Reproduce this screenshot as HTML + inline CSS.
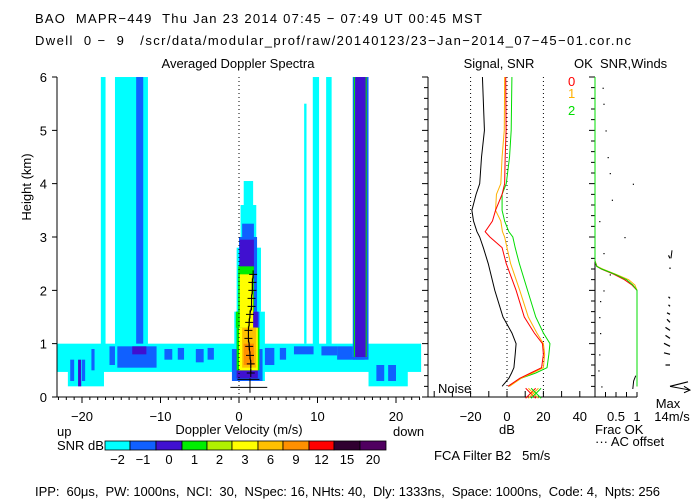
<!DOCTYPE html>
<html><head><meta charset="utf-8"><style>
html,body{margin:0;padding:0;background:#fff}
svg{display:block}
text{font-family:"Liberation Sans",sans-serif;font-size:13px;fill:#000;white-space:pre}
</style></head><body>
<svg id="c" width="700" height="500" viewBox="0 0 700 500" xmlns="http://www.w3.org/2000/svg" xml:space="preserve">
<text x="35" y="23" textLength="447" lengthAdjust="spacing">BAO  MAPR−449  Thu Jan 23 2014 07:45 − 07:49 UT 00:45 MST</text>
<text x="35" y="45" textLength="596" lengthAdjust="spacing">Dwell  0 −  9   /scr/data/modular_prof/raw/20140123/23−Jan−2014_07−45−01.cor.nc</text>
<text x="238" y="68" text-anchor="middle">Averaged Doppler Spectra</text>
<text x="499" y="68" text-anchor="middle">Signal, SNR</text>
<text x="574" y="68">OK  SNR,Winds</text>
<text x="31" y="187" text-anchor="middle" transform="rotate(-90 31 187)">Height (km)</text>
<text x="239" y="434" text-anchor="middle">Doppler Velocity (m/s)</text>
<text x="57" y="436">up</text>
<text x="393" y="436">down</text>
<text x="57" y="450">SNR dB</text>
<text x="507" y="434" text-anchor="middle">dB</text>
<text x="438" y="393">Noise</text>
<text x="595" y="434">Frac OK</text>
<text x="595" y="446">··· AC offset</text>
<text x="668" y="408" text-anchor="middle">Max</text>
<text x="672" y="421" text-anchor="middle">14m/s</text>
<text x="434" y="460">FCA Filter B2   5m/s</text>
<text x="35" y="496" textLength="625" lengthAdjust="spacing">IPP:  60μs,  PW: 1000ns,  NCI:  30,  NSpec: 16, NHts: 40,  Dly: 1333ns,  Space: 1000ns,  Code: 4,  Npts: 256</text>
<text x="568" y="86" style="fill:#f00">0</text>
<text x="568" y="98" style="fill:#ffb000">1</text>
<text x="568" y="115" style="fill:#00dd00">2</text>
<g id="g"></g>
</svg>
<script>
// ---- data ----
const levelLabels = ["-2","-1","0","1","2","3","6","9","12","15","20"];
const levelColors = ["#00ffff","#1060ff","#4010d0","#00ee00","#b0f000","#ffff00","#ffc000","#ff9000","#ff0000","#300030","#500060"];
// spectra patches: [v0, v1, h0, h1, levelIndex]
const patches = [
 [-17.6,-17.0,0.5,6,0],[-15.8,-11.6,0.95,6,0],[-13.1,-12.2,0.9,6,1],
 [8.3,8.6,1.0,5.5,0],[9.4,10.2,0.95,6,0],[11.1,11.8,0.95,6,0],
 [-23.2,23.2,0.47,1.0,0],[-21.8,-17.2,0.2,0.5,0],[16.5,21.5,0.2,0.5,0],
 [-21.5,-21.0,0.3,0.7,1],[-20.0,-19.6,0.3,0.7,1],[-18.8,-18.4,0.5,0.9,1],
 [-16.5,-15.8,0.6,0.95,1],[-15.5,-10.5,0.55,0.95,1],[-9.5,-8.5,0.7,0.9,1],[-7.8,-7.0,0.7,0.92,1],[-5.5,-4.5,0.65,0.9,1],[-4.0,-3.2,0.7,0.92,1],
 [3.0,4.5,0.6,0.92,1],[5.2,6.0,0.7,0.92,1],[7.0,9.5,0.8,0.95,1],[10.5,12.5,0.78,0.95,1],[12.5,16.0,0.7,0.95,1],[17.5,18.5,0.3,0.6,1],[19.0,20.0,0.3,0.6,1],
 [-13.6,-11.8,0.8,0.95,2],[-20.5,-20.1,0.2,0.7,2],
 [14.5,16.5,0.75,6,0],[14.5,16.5,0.7,6,1],[14.8,16.3,0.75,6,2],
 [-0.6,3.3,0.3,1.6,0],[-0.3,2.8,1.6,2.8,0],[0.2,2.2,2.8,3.6,0],[0.6,1.8,3.6,4.05,0],
 [-0.9,3.0,0.3,0.9,1],[-0.3,2.6,0.9,1.6,1],[0,2.3,1.6,3.0,1],[0.4,1.9,3.0,3.25,1],
 [-0.3,2.4,0.35,1.6,2],[0.1,1.9,1.6,2.95,2],
 [-0.3,2.6,0.5,1.3,3],[-0.4,1.6,1.3,1.6,3],[-0.1,1.9,1.6,2.45,3],
 [0,2.4,0.5,1.3,5],[0.1,1.8,1.3,2.3,5],
 [0.4,2.2,0.55,1.3,6],[0.6,1.9,0.6,1.0,7]
];
const momentH = [0.45,0.62,0.78,0.95,1.1,1.25,1.4,1.55,1.7,1.85,2.0,2.15,2.3];
const momentV = [1.5,1.5,1.4,1.3,1.2,1.2,1.3,1.4,1.6,1.6,1.7,1.7,1.8];
// profiles
const profH = [0.2,0.35,0.45,0.55,0.8,1.0,1.2,1.5,2.0,2.5,2.8,3.0,3.1,3.3,3.5,3.8,4.0,4.5,5.0,6.0];
const noiseDb = [-2.7,1,2.5,3.8,4.5,5,2.7,-2.2,-6.7,-10.3,-13,-15,-16.5,-18.4,-19.3,-17,-15,-14,-12.4,-13.5];
const snr0 = [0.5,7,13,19,20,19.5,15,9.5,5,-0.4,-2.7,-9.4,-12,-8,-6.3,-2.7,-1.3,-1,-0.5,-0.7];
const snr1 = [1.4,7.7,14,20,20.7,20,16.4,11.7,7,2,0,-1.3,-2.5,-3.4,-6.3,-5.8,-3.4,-2.7,-1.5,-1.3];
const snr2 = [0.9,7.7,15.8,22,23,23.6,20,15.8,11.3,6.8,4.5,3.2,1,-1.3,-2.7,-2.7,-0.4,1.4,2.3,2.7];
const fracH = [0.2,2.0,2.1,2.2,2.3,2.4,2.45,2.55,6.0];
const frac0 = [1,1,0.88,0.7,0.45,0.15,0.04,0,0];
const frac1 = [1,1.0,0.95,0.8,0.5,0.18,0.05,0,0];
const frac2 = [1,1,0.9,0.75,0.48,0.16,0.04,0,0];
const acH = [0.2,0.5,0.8,1.2,1.5,1.8,2.0,2.3,2.7,3.0,3.3,3.7,4.0,4.2,4.5,5.0,5.5,5.8];
const acF = [0.15,0.08,0.1,0.12,0.1,0.12,0.2,0.35,0.2,0.7,0.1,0.4,0.9,0.35,0.3,0.25,0.2,0.18];
const windH = [0.2,0.6,0.8,0.95,1.1,1.25,1.4,1.55,1.7,1.85,2.0,2.2,2.4,2.6];
const windU = [-12,3,4,4,3,3,2,2,1,1,0,0,0,1];
const windV = [3,0,1,2,2,2,2,1,1,1,0,0,1,2];
// ---- axes ----
const yH = h => 397 - 53.33*h;
const xV = v => 239 + 7.85*v;
const xD = d => 507 + 1.82*d;
const xF = f => 595 + 42*f;
const g = document.getElementById('g');
const NS='http://www.w3.org/2000/svg';
function mk(tag, at, parent){const e=document.createElementNS(NS,tag);for(const k in at)e.setAttribute(k,at[k]);(parent||g).appendChild(e);return e;}
patches.forEach((p,i)=>{
 const r=mk('rect',{x:xV(p[0]),y:yH(p[3]),width:xV(p[1])-xV(p[0]),height:yH(p[2])-yH(p[3]),fill:levelColors[p[4]]});
 
 
});
[14.7,16.2].forEach(v=>{const l=mk('line',{x1:xV(v),x2:xV(v),y1:yH(6),y2:yH(0.75),stroke:'#00ee00','stroke-width':1});
 
 });
const zl=mk('line',{x1:xV(0),x2:xV(0),y1:yH(6),y2:yH(0),stroke:'#000','stroke-dasharray':'1,3'});


const mp=mk('polyline',{points:momentH.map((h,i)=>xV(momentV[i])+','+yH(h)).join(' '),fill:'none',stroke:'#000'});


momentH.forEach((h,i)=>{const x=xV(momentV[i]),y=yH(h);
 const c=mk('path',{d:`M${x-4},${y}H${x+4}M${x},${y-4}V${y+4}`,stroke:'#000'});
 
 });
const wb=mk('path',{d:`M${xV(-0.2)},${yH(0.33)}H${xV(2.6)}M${xV(-1.1)},${yH(0.18)}H${xV(3.6)}M${xV(1.4)},${yH(0.35)}V${yH(0.08)}`,stroke:'#000'});


let d=`M57,77V397H420`;
for(let h=0;h<=6;h++) d+=`M52,${yH(h)}H57`;
for(let v=-23;v<=23;v++){const L=(v%10===0)?6:3;d+=`M${xV(v)},397V${397+L}`;}
const ax=mk('path',{d,stroke:'#000',fill:'none'});


for(let h=0;h<=6;h++){const t=mk('text',{x:47,y:yH(h)+5,'text-anchor':'end'});t.textContent=h;
 
 }
[-20,-10,0,10,20].forEach(v=>{const t=mk('text',{x:xV(v),y:421,'text-anchor':'middle'});t.textContent=v<0?'−'+(-v):v;
 
 });
const cbEdges=[105,130,156,182,207,232,258,283,309,334,360,386];
levelColors.forEach((c,i)=>{
 const r=mk('rect',{x:cbEdges[i],y:441,width:cbEdges[i+1]-cbEdges[i],height:9,fill:c,stroke:'#000','stroke-width':0.8});
 
 
 const t=mk('text',{x:(cbEdges[i]+cbEdges[i+1])/2,y:464,'text-anchor':'middle'});t.textContent=levelLabels[i].replace('-','−');
 
 
});
d=`M428,77V397H590`;
for(let k=0;k<=30;k++){const h=k*0.2;const L=(k%5===0)?6:4;d+=`M${428-L},${yH(h)}H428`;}
for(let db=-40;db<=40;db+=10) d+=`M${xD(db)},397V391`;
const sax=mk('path',{d,stroke:'#000',fill:'none'});


[-20,0,20].forEach(db=>{const l=mk('line',{x1:xD(db),x2:xD(db),y1:yH(6),y2:397,stroke:'#000','stroke-dasharray':'1,3'});
 
 });
[-20,0,20,40].forEach(db=>{const t=mk('text',{x:xD(db),y:421,'text-anchor':'middle'});t.textContent=db<0?'−'+(-db):db;
 
 });
[[noiseDb,'#000','noise-line'],[snr2,'#00dd00','snr-line-2'],[snr1,'#ffb000','snr-line-1'],[snr0,'#ff0000','snr-line-0']].forEach(s=>{
 const p=mk('polyline',{points:profH.map((h,i)=>xD(s[0][i])+','+yH(h)).join(' '),fill:'none',stroke:s[1]});
 
 
});
[[13,'#ff0000'],[14.5,'#ffb000'],[16,'#00dd00']].forEach(x=>{const cx=xD(x[0]),cy=yH(0.07);
 const p=mk('path',{d:`M${cx-5},${cy-5}L${cx+5},${cy+5}M${cx+5},${cy-5}L${cx-5},${cy+5}`,stroke:x[1]});
 
 });
d=`M595,77V397H637`;
for(let k=0;k<=30;k++){const h=k*0.2;const L=(k%5===0)?6:4;d+=`M${595-L},${yH(h)}H595`;}
[0.25,0.5,0.75,1].forEach(f=>{d+=`M${xF(f)},397V392`;});
const fax=mk('path',{d,stroke:'#000',fill:'none'});


[[0.5,'0.5'],[1,'1']].forEach(f=>{const t=mk('text',{x:xF(f[0]),y:421,'text-anchor':'middle'});t.textContent=f[1];
 
 });
acH.forEach((h,i)=>{const r=mk('rect',{x:xF(acF[i]),y:yH(h),width:1.2,height:1.2,fill:'#000'});
 
 });
[[frac1,'#ffb000','frac-line-1'],[frac0,'#ff0000','frac-line-0'],[frac2,'#00dd00','frac-line-2']].forEach(s=>{
 const p=mk('polyline',{points:fracH.map((h,i)=>xF(s[0][i])+','+yH(h)).join(' '),fill:'none',stroke:s[1]});
 
 
});
const bl=mk('polyline',{points:`${xF(0.9)},${yH(0.15)} ${xF(0.92)},${yH(0.3)} ${xF(0.97)},${yH(0.4)}`,fill:'none',stroke:'#000'});


windH.forEach((h,i)=>{const x=670,y=yH(h);
 const l=mk('line',{x1:x,y1:y,x2:x+windU[i]*-1.5,y2:y-windV[i]*1.5,stroke:'#000','stroke-width':1.2});
 
 });
const wa=mk('path',{d:`M670,${yH(0.2)}L690,${yH(0.13)}M684,${yH(0.2)}L690,${yH(0.13)}L684,${yH(0.08)}M671,${yH(2.6)}L672,${yH(2.75)}`,stroke:'#000',fill:'none'});


</script>
</body></html>
